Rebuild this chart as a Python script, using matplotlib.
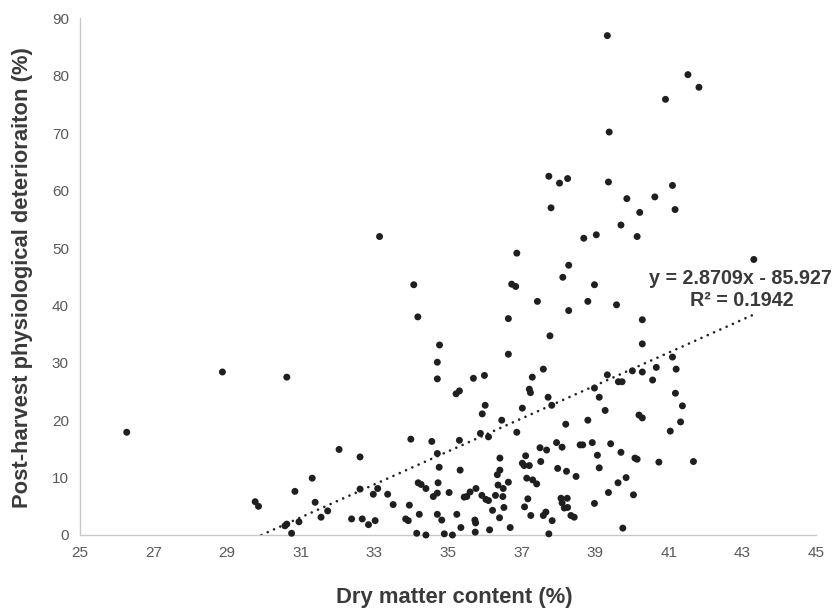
import matplotlib
matplotlib.use("Agg")
import matplotlib.pyplot as plt
import numpy as np

# Data
dry_matter = [
    26.27, 28.87, 30.62, 29.76, 29.85, 33.14, 34.07, 34.18, 39.33, 41.52,
    41.82, 40.91, 39.38, 37.74, 38.03, 38.25, 39.36, 39.86, 40.62, 41.10,
    37.80, 40.21, 41.17, 39.70, 38.69, 39.03, 40.14, 36.87, 43.31, 38.28,
    38.12, 36.73, 36.84, 38.98, 37.43, 38.28, 38.80, 39.58, 40.28, 36.64,
    37.77, 34.77, 40.28, 36.64, 34.71, 34.71, 35.69, 35.99, 35.22, 35.31,
    37.29, 37.59, 37.21, 37.24, 39.33, 38.98, 39.63, 39.73, 40.01, 40.28,
    40.66, 41.10, 41.20, 40.56, 39.11, 37.72, 37.82, 37.02, 35.93, 36.01,
    36.46, 39.27, 38.80, 38.20, 41.18, 41.37, 41.32, 41.04, 40.19, 40.28,
    36.87, 35.88, 36.10, 35.31, 34.56, 33.99, 34.71, 34.76, 35.33, 34.19,
    34.27, 34.40, 34.73, 34.60, 34.71, 35.03, 33.95, 33.85, 33.92, 34.22,
    34.71, 34.83, 34.15, 34.40, 34.90, 35.12, 35.24, 35.35, 35.44, 35.51,
    35.60, 35.76, 35.73, 35.75, 35.74, 35.92, 36.03, 36.10, 36.13, 36.21,
    36.29, 36.40, 36.34, 36.41, 36.41, 36.36, 36.50, 36.49, 36.64, 36.52,
    36.69, 37.02, 37.07, 37.11, 37.21, 37.14, 37.30, 37.41, 37.17, 37.08,
    37.25, 37.52, 37.50, 37.68, 37.59, 37.66, 37.83, 37.74, 37.95, 38.10,
    37.98, 38.22, 38.48, 38.07, 38.24, 38.10, 38.16, 38.25, 38.34, 38.43,
    38.59, 38.66, 38.92, 39.06, 39.11, 38.98, 39.42, 39.70, 40.08, 40.14,
    39.36, 39.62, 39.84, 40.04, 39.75, 40.73, 41.67, 32.04, 32.61, 31.31,
    30.84, 32.61, 33.09, 32.97, 33.36, 33.51, 31.39, 31.73, 31.55, 30.57,
    30.62, 30.95, 30.75, 32.38, 32.67, 32.84, 33.02,
]
deterioration = [
    17.9, 28.4, 27.5, 5.8, 5.0, 52.0, 43.6, 38.0, 87.0, 80.2,
    78.0, 75.9, 70.2, 62.5, 61.3, 62.1, 61.5, 58.6, 58.9, 60.9,
    57.0, 56.2, 56.7, 54.0, 51.7, 52.3, 52.0, 49.1, 48.0, 47.0,
    44.9, 43.7, 43.3, 43.6, 40.7, 39.1, 40.7, 40.1, 37.5, 37.7,
    34.7, 33.1, 33.3, 31.5, 30.1, 27.2, 27.3, 27.8, 24.6, 25.1,
    27.5, 28.9, 25.4, 24.8, 27.9, 25.6, 26.7, 26.7, 28.6, 28.4,
    29.2, 31.0, 28.9, 27.0, 24.0, 24.0, 22.6, 22.1, 21.1, 22.6,
    20.0, 21.7, 20.0, 19.3, 24.7, 22.5, 19.7, 18.1, 20.9, 20.4,
    17.9, 17.7, 17.1, 16.5, 16.3, 16.7, 14.2, 11.8, 11.3, 9.1,
    8.8, 8.1, 9.1, 6.7, 7.3, 7.4, 5.2, 2.8, 2.5, 3.6,
    3.6, 2.6, 0.3, 0.0, 0.2, 0.0, 3.6, 1.3, 6.6, 6.7,
    7.5, 8.1, 2.6, 2.1, 0.5, 6.9, 6.2, 6.0, 0.9, 4.3,
    6.9, 3.0, 10.5, 11.3, 13.4, 8.7, 8.1, 6.7, 9.2, 4.8,
    1.3, 12.5, 12.1, 13.8, 12.1, 9.9, 9.6, 8.9, 6.3, 4.9,
    3.4, 12.8, 15.2, 14.8, 3.4, 4.0, 2.5, 0.2, 16.1, 15.3,
    11.6, 11.1, 10.2, 6.4, 6.4, 5.6, 4.7, 4.8, 3.4, 3.1,
    15.7, 15.7, 16.1, 13.9, 11.7, 5.5, 15.9, 14.4, 13.4, 13.2,
    7.4, 9.1, 10.0, 7.0, 1.2, 12.7, 12.8, 14.9, 13.6, 9.9,
    7.6, 8.0, 8.1, 7.1, 7.1, 5.3, 5.7, 4.2, 3.1, 1.6,
    1.9, 2.3, 0.3, 2.8, 2.8, 1.8, 2.5,
]
slope = 2.8709
intercept = -85.927
r_squared = 0.1942
x_ticks = [25, 27, 29, 31, 33, 35, 37, 39, 41, 43, 45]
y_ticks = [0, 10, 20, 30, 40, 50, 60, 70, 80, 90]
x_label = "Dry matter content (%)"
y_label = "Post-harvest physiological deterioraiton (%)"

plt.rcParams['font.family'] = ['Liberation Sans', 'DejaVu Sans']

fig = plt.figure(figsize=(8.35, 6.08), dpi=100)
ax = fig.add_axes([80/835, 1-535/608, (816-80)/835, (535-18.4)/608])

ax.scatter(dry_matter, deterioration, s=25, color='#1f1f1f', edgecolors='none', zorder=3, clip_on=False)

xs = np.array([min(dry_matter), max(dry_matter)])
x0 = max(xs[0], -intercept/slope)
xl = np.array([x0, xs[1]])
ax.plot(xl, slope*xl + intercept, color='#1f1f1f', lw=1.9,
        linestyle=(0, (0.01, 2.6)), dash_capstyle='round', zorder=2)

ax.set_xlim(25, 45)
ax.set_ylim(0, 90)
ax.set_xticks(x_ticks)
ax.set_yticks(y_ticks)
ax.tick_params(length=0, labelsize=11, labelcolor='#595959', pad=8)
for s in ['top', 'right']:
    ax.spines[s].set_visible(False)
for s in ['left', 'bottom']:
    ax.spines[s].set_color('#c8c8c8')
    ax.spines[s].set_linewidth(1.0)

fig.text(454/835, 1-598/608, x_label, ha='center', va='center',
         fontsize=15.8, fontweight='bold', color='#3a3a3a')
fig.text(23/835, 1-278/608, y_label, ha='center', va='center', rotation=90,
         fontsize=15.8, fontweight='bold', color='#3a3a3a')

fig.text(740/835, 1-278/608, f"y = {slope}x - {abs(intercept)}", ha='center', va='center',
         fontsize=14.2, fontweight='bold', color='#3a3a3a')
fig.text(742/835, 1-300.5/608, f"R\u00b2 = {r_squared}", ha='center', va='center',
         fontsize=14.2, fontweight='bold', color='#3a3a3a')

fig.savefig("out.png", dpi=100)
